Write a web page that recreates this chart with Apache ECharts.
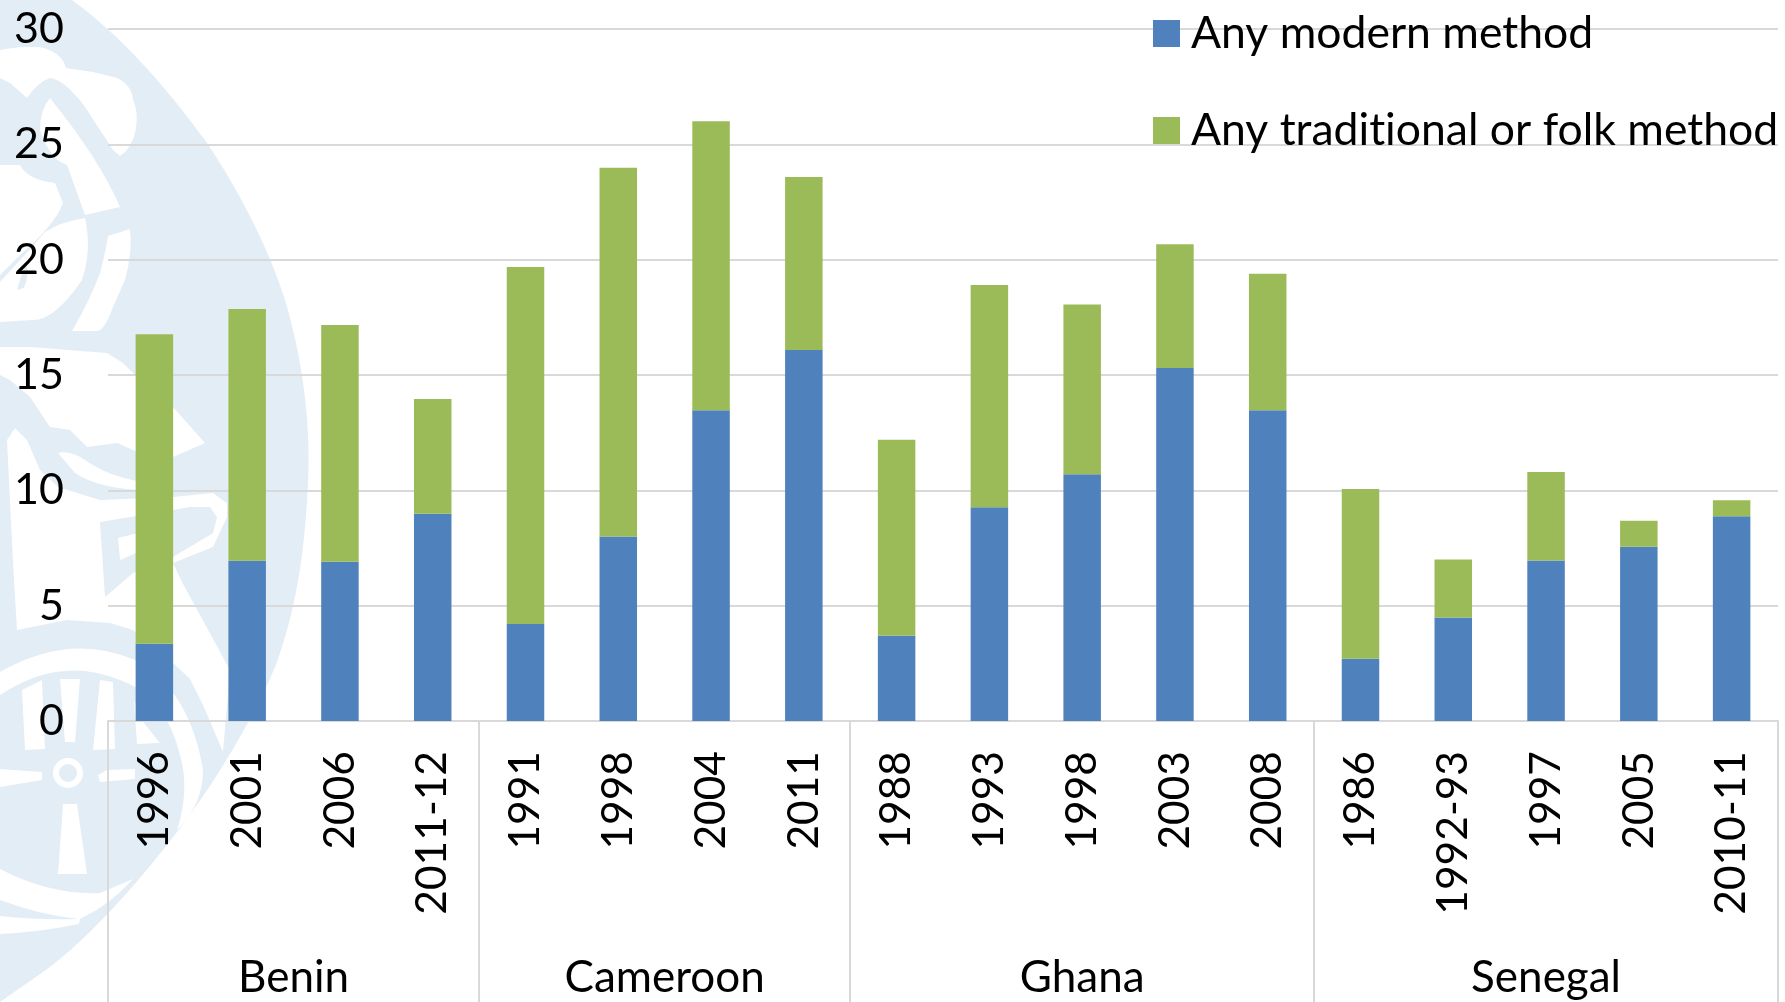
<!DOCTYPE html>
<html>
<head>
<meta charset="utf-8">
<title>Contraceptive use by method</title>
<style>html,body{margin:0;padding:0;background:#fff}#chart{width:1785px;height:1002px}</style>
<script src="https://cdn.jsdelivr.net/npm/echarts@6/dist/echarts.min.js"></script>
</head>
<body>
<div id="chart"></div>
<script>
// Survey rounds, grouped by country
const countries = ['Benin', 'Cameroon', 'Ghana', 'Senegal'];
const roundsPerCountry = [4, 4, 5, 5];
const years = ['1996','2001','2006','2011-12','1991','1998','2004','2011','1988','1993','1998','2003','2008','1986','1992-93','1997','2005','2010-11'];

// Prevalence, percent
const modern = [3.35,6.95,6.9,8.98,4.2,8.0,13.47,16.08,3.7,9.27,10.7,15.3,13.47,2.7,4.49,6.96,7.55,8.88];
const traditional = [13.42,10.91,10.27,4.98,15.48,15.98,12.53,7.5,8.49,9.63,7.36,5.37,5.92,7.36,2.51,3.84,1.13,0.69];

const FONT = 'Lato';
const RULE = '#d9d9d9';
const SEAL = '#e3edf5';

// Group boundaries and mid-points on the 0..n scale of the country axis
const boundaries = [0];
roundsPerCountry.forEach(n => boundaries.push(boundaries[boundaries.length - 1] + n));
const centres = countries.map((_, i) => (boundaries[i] + boundaries[i + 1]) / 2);

// Pale seal printed behind the plot, in page pixels
const sealShapes = [
  [SEAL, 'M0 0 L72 0 C120 35 165 85 207 143 C245 200 280 270 293 330 C305 380 312 440 307 500 C303 570 292 620 277 662 C262 700 225 770 177 832 C140 880 85 945 33 979 L0 1002 Z'],
  ['#fff', 'M0 50 L20 47 L40 47 Q62 52 66 68 L93 72 L117 78 Q132 85 133 100 Q140 115 134 137 Q128 152 120 156 L113 150 L85 107 Q65 80 50 78 Q38 82 27 98 L10 83 L0 78 Z'],
  ['#fff', 'M50 98 Q40 110 40 130 Q50 160 67 165 L85 215 L120 207 Q100 160 50 98 Z'],
  ['#fff', 'M0 165 L20 165 Q28 180 55 183 L63 203 Q55 225 20 255 L0 275 Z'],
  ['#fff', 'M0 282 Q25 255 45 232 Q60 222 85 218 Q92 250 82 280 Q55 320 33 320 L0 322 Z'],
  [SEAL, 'M17 290 Q22 272 26 265 Q30 272 24 288 Z'],
  ['#fff', 'M108 236 L130 229 Q133 250 125 280 L113 307 Q105 330 97 331 L72 331 Q90 300 100 273 Q106 250 108 236 Z'],
  ['#fff', 'M0 347 L30 347 L107 353 L123 363 L147 387 L173 407 L205 443 L173 457 L140 453 L117 443 L87 447 L70 430 L50 427 L30 397 L10 380 L0 375 Z'],
  ['#fff', 'M58 453 Q70 450 85 460 Q110 478 150 483 L173 485 L150 490 Q100 490 75 473 Z'],
  ['#fff', 'M7 440 L15 428 L27 440 L40 470 L58 487 L100 500 L173 497 L213 493 L227 503 L227 517 L213 547 L173 563 L182 582 L230 670 L223 752 L203 705 L190 679 L173 663 L133 630 L110 623 L67 620 L17 630 L13 563 Z'],
  [SEAL, 'M100 522 L173 510 L190 507 L210 507 L217 517 L213 533 L173 557 L133 573 L105 597 Z'],
  ['#fff', 'M118 538 L150 530 L173 527 L173 537 L120 560 Z'],
  ['#fff', 'M0 672 Q70 632 135 660 Q190 690 203 770 Q203 805 177 830 Q190 790 180 755 Q165 695 120 680 Q60 655 0 695 Z'],
  ['#fff', 'M22 690 L42 680 L45 749 L25 750 Z'],
  ['#fff', 'M60 679 L80 679 L75 742 L65 742 Z'],
  ['#fff', 'M100 680 L113 682 L115 749 L93 750 Z'],
  ['#fff', 'M140 718 L160 743 L137 744 L134 700 Z'],
  ['#fff', 'M0 769 L42 772 L42 780 L0 787 Z'],
  ['#fff', 'M98 775 L107 770 L135 769 L135 779 L100 782 Z'],
  ['#fff', 'M63 804 L77 804 L87 874 L58 874 Z'],
  ['#fff', 'M0 869 Q50 895 100 893 L133 879 Q110 905 80 919 L79 924 Q40 932 0 934 Z'],
  [SEAL, 'M0 900 Q40 915 78 919 Q40 920 0 916 Z']
];

// The zero-length corner segments pin each path's bounds to the full page, so 'cover' keeps page pixels
const PAGE_BOUNDS = ' M0 0 L0 0 M1785 1002 L1785 1002';

function renderSeal() {
  const children = sealShapes.map(([fill, d]) => ({
    type: 'path',
    shape: { pathData: d + PAGE_BOUNDS, x: 0, y: 0, width: 1785, height: 1002, layout: 'cover' },
    style: { fill, stroke: null }
  }));
  children.push({
    type: 'ring',
    shape: { cx: 68, cy: 773, r: 15, r0: 9 },
    style: { fill: '#fff' }
  });
  return { type: 'group', children };
}

const chart = echarts.init(document.getElementById('chart'), null, { renderer: 'canvas', width: 1785, height: 1002 });

chart.setOption({
  animation: false,
  backgroundColor: '#fff',
  textStyle: { fontFamily: FONT, color: '#000' },
  grid: { left: 108, right: 7, top: 29, bottom: 281, containLabel: false },
  legend: {
    orient: 'vertical', left: 1153, top: 11, padding: 0, itemGap: 52, itemWidth: 27, itemHeight: 27,
    icon: 'rect',
    // The joiner keeps "ti" from collapsing into a ligature
    formatter: name => name.replace('ti', 't\u200ci'),
    textStyle: { fontFamily: FONT, fontSize: 44.5, color: '#000', padding: [0, 0, 0, 6] },
    data: ['Any modern method', 'Any traditional or folk method']
  },
  xAxis: [
    {
      type: 'category', data: years, position: 'bottom',
      axisLine: { lineStyle: { color: RULE, width: 2 } },
      axisTick: { show: false },
      axisLabel: { interval: 0, rotate: 90, margin: 30, padding: [6, 0, 0, 0], fontFamily: FONT, fontSize: 42.5, color: '#000' }
    },
    {
      type: 'value', min: 0, max: boundaries[boundaries.length - 1], position: 'bottom',
      splitLine: { show: false },
      axisLine: { show: false },
      axisTick: { show: true, customValues: boundaries, length: 282, lineStyle: { color: RULE, width: 2 } },
      axisLabel: {
        show: true, customValues: centres, margin: 235, fontFamily: FONT, fontSize: 44, color: '#000',
        formatter: v => countries[centres.indexOf(v)]
      }
    }
  ],
  yAxis: {
    type: 'value', min: 0, max: 30, interval: 5,
    axisLine: { show: false }, axisTick: { show: false },
    splitLine: { lineStyle: { color: RULE, width: 2 } },
    axisLabel: { margin: 44, fontFamily: FONT, fontSize: 43, color: '#000' }
  },
  series: [
    { type: 'custom', coordinateSystem: 'none', data: [0], z: -1, silent: true, renderItem: renderSeal },
    { name: 'Any modern method', type: 'bar', stack: 'use', data: modern, barWidth: 37.5, itemStyle: { color: '#4f81bd' } },
    { name: 'Any traditional or folk method', type: 'bar', stack: 'use', data: traditional, barWidth: 37.5, itemStyle: { color: '#9bbb59' } }
  ]
});
</script>
</body>
</html>
